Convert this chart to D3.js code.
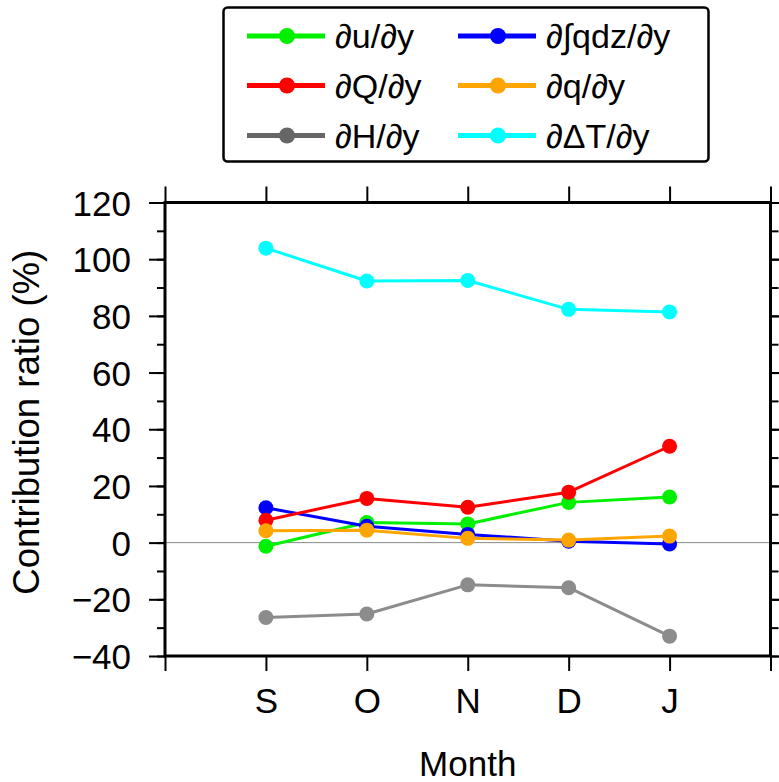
<!DOCTYPE html>
<html><head><meta charset="utf-8">
<script src="https://cdn.jsdelivr.net/npm/d3@7"></script>
<style>body{margin:0;background:#fff}svg{display:block}</style>
</head><body>
<svg id="c" width="779" height="782"></svg>
<script>
const months = ["S","O","N","D","J"];
const seriesNames = ["∂u/∂y","∂∫qdz/∂y","∂Q/∂y","∂q/∂y","∂H/∂y","∂ΔT/∂y"];
const duDy   = [-1.3, 7.1, 6.6, 14.2, 16.1];
const dqdzDy = [12.3, 5.8, 2.9, 0.5, -0.5];
const dQDy   = [7.9, 15.6, 12.5, 17.8, 34.0];
const dqDy   = [4.2, 4.4, 1.5, 0.9, 2.3];
const dHDy   = [-26.4, -25.2, -14.9, -15.9, -33.0];
const dTDy   = [103.9, 92.3, 92.5, 82.3, 81.4];
const yTicks = [-40,-20,0,20,40,60,80,100,120];

const seriesValues = [duDy, dqdzDy, dQDy, dqDy, dHDy, dTDy];
const lineColors = ["#00f000","#0000ff","#ff0000","#ffa500","#8c8c8c","#00ffff"];
const legendColors = ["#00f000","#0000ff","#ff0000","#ffa500","#666666","#00ffff"];

const svg = d3.select("#c");
const L = 165, R = 770.5, T = 202.5, B = 656;
const FONT = "'Liberation Sans', Arial, Helvetica, sans-serif";

const x = d3.scaleLinear().domain([0, months.length + 1]).range([L, R]);
const y = d3.scaleLinear().domain([-40, 120]).range([B, T]);

// zero line
svg.append("line").attr("x1", L).attr("x2", R).attr("y1", y(0)).attr("y2", y(0))
  .attr("stroke", "#888").attr("stroke-width", 1);

// series
const drawOrder = [4, 5, 0, 1, 2, 3];
drawOrder.forEach(i => {
  const vals = seriesValues[i];
  const g = svg.append("g");
  g.append("path").datum(vals)
    .attr("fill", "none").attr("stroke", lineColors[i]).attr("stroke-width", 3)
    .attr("stroke-linejoin", "round")
    .attr("d", d3.line().x((d, k) => x(k + 1)).y(d => y(d)));
  g.selectAll("circle").data(vals).join("circle")
    .attr("cx", (d, k) => x(k + 1)).attr("cy", d => y(d)).attr("r", 7.5)
    .attr("fill", lineColors[i]);
});

// axes
const xTickVals = d3.range(0, months.length + 2);
const yMinor = d3.range(-40, 121, 10);
const axStyle = g => {
  g.select(".domain").remove();
  g.selectAll(".tick line").attr("stroke", "#000").attr("stroke-width", 2);
  g.selectAll("text").attr("font-family", FONT).attr("font-size", 35).attr("fill", "#000");
};
// left minor
svg.append("g").attr("transform", `translate(${L},0)`)
  .call(d3.axisLeft(y).tickValues(yMinor).tickSize(8).tickFormat(""))
  .call(axStyle);
svg.append("g").attr("transform", `translate(${L},0)`)
  .call(d3.axisLeft(y).tickValues(yTicks).tickSize(16).tickPadding(18)
    .tickFormat(d => d < 0 ? "\u2212" + Math.abs(d) : d))
  .call(axStyle)
  .call(g => g.selectAll("text").attr("dy", "0.36em"));
// right
svg.append("g").attr("transform", `translate(${R},0)`)
  .call(d3.axisRight(y).tickValues(yMinor).tickSize(8).tickFormat(""))
  .call(axStyle);
svg.append("g").attr("transform", `translate(${R},0)`)
  .call(d3.axisRight(y).tickValues(yTicks).tickSize(16).tickFormat(""))
  .call(axStyle);
// bottom
svg.append("g").attr("transform", `translate(0,${B})`)
  .call(d3.axisBottom(x).tickValues(xTickVals).tickSize(15).tickPadding(17)
    .tickFormat(d => (d >= 1 && d <= months.length) ? months[d - 1] : ""))
  .call(axStyle)
  .call(g => g.selectAll("text").attr("dy", "0.71em"));
// top
svg.append("g").attr("transform", `translate(0,${T})`)
  .call(d3.axisTop(x).tickValues(xTickVals).tickSize(16).tickFormat(""))
  .call(axStyle);

// frame
svg.append("rect").attr("x", L).attr("y", T).attr("width", R - L).attr("height", B - T)
  .attr("fill", "none").attr("stroke", "#000").attr("stroke-width", 3);

// titles
svg.append("text").attr("x", (L + R) / 2).attr("y", 776)
  .attr("text-anchor", "middle").attr("font-family", FONT).attr("font-size", 35)
  .text("Month");
svg.append("text").attr("transform", `translate(39,${(T + B) / 2 - 7}) rotate(-90)`)
  .attr("text-anchor", "middle").attr("font-family", FONT).attr("font-size", 36.5)
  .text("Contribution ratio (%)");

// legend
const lg = svg.append("g");
lg.append("rect").attr("x", 223.5).attr("y", 7.5).attr("width", 485).attr("height", 154)
  .attr("rx", 4).attr("fill", "#fff").attr("stroke", "#000").attr("stroke-width", 2.5);
const colX = [247, 458], rowY = [36, 85.5, 135.5];
seriesNames.forEach((name, i) => {
  const cx = colX[i % 2], cy = rowY[Math.floor(i / 2)];
  lg.append("line").attr("x1", cx).attr("x2", cx + 78).attr("y1", cy).attr("y2", cy)
    .attr("stroke", legendColors[i]).attr("stroke-width", 5);
  lg.append("circle").attr("cx", cx + 40).attr("cy", cy).attr("r", 8).attr("fill", legendColors[i]);
  lg.append("text").attr("x", cx + 88).attr("y", cy + 12)
    .attr("font-family", FONT).attr("font-size", 34).text(name);
});
</script>
</body></html>
